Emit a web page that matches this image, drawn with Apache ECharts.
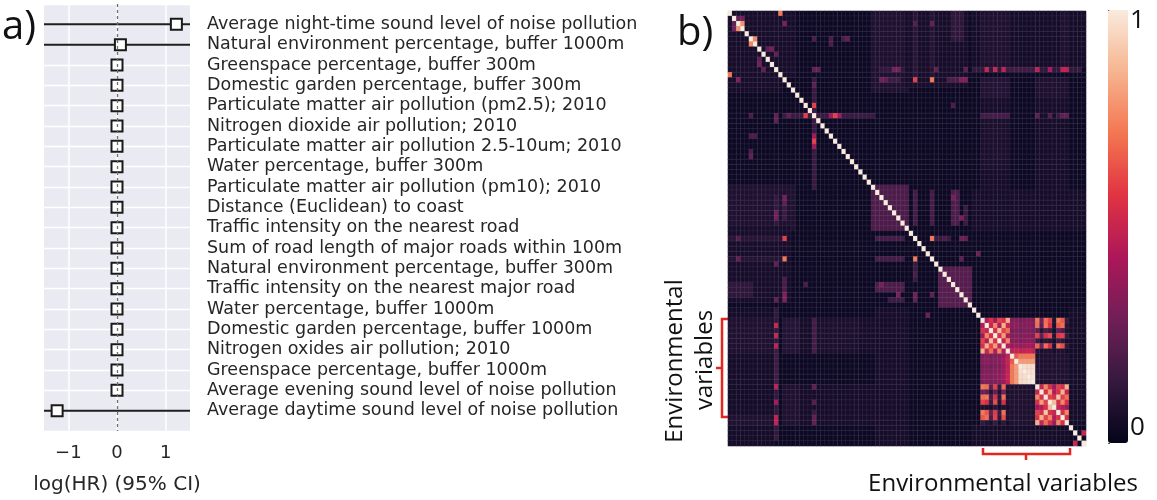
<!DOCTYPE html>
<html>
<head>
<meta charset="utf-8">
<script src="https://cdn.jsdelivr.net/npm/echarts@6/dist/echarts.min.js"></script>
<style>
  html, body { margin: 0; padding: 0; background: #fff; }
  #chart { width: 1157px; height: 500px; }
</style>
</head>
<body>
<div id="chart"></div>
<script>
// ---- a) forest plot ----
const varNames = [
  'Average night-time sound level of noise pollution',
  'Natural environment percentage, buffer 1000m',
  'Greenspace percentage, buffer 300m',
  'Domestic garden percentage, buffer 300m',
  'Particulate matter air pollution (pm2.5); 2010',
  'Nitrogen dioxide air pollution; 2010',
  'Particulate matter air pollution 2.5-10um; 2010',
  'Water percentage, buffer 300m',
  'Particulate matter air pollution (pm10); 2010',
  'Distance (Euclidean) to coast',
  'Traffic intensity on the nearest road',
  'Sum of road length of major roads within 100m',
  'Natural environment percentage, buffer 300m',
  'Traffic intensity on the nearest major road',
  'Water percentage, buffer 1000m',
  'Domestic garden percentage, buffer 1000m',
  'Nitrogen oxides air pollution; 2010',
  'Greenspace percentage, buffer 1000m',
  'Average evening sound level of noise pollution',
  'Average daytime sound level of noise pollution'
];
const logHR  = [1.22, 0.07, 0, 0, 0, 0, 0, 0, 0, 0, 0, 0, 0, 0, 0, 0, 0, 0, 0, -1.23];
const ciLow  = [-3.2, -2.6, -0.02, -0.02, -0.02, -0.02, -0.02, -0.02, -0.02, -0.02, -0.02, -0.02, -0.02, -0.02, -0.02, -0.02, -0.02, -0.02, -0.02, -3.9];
const ciHigh = [5.6, 2.7, 0.02, 0.02, 0.02, 0.02, 0.02, 0.02, 0.02, 0.02, 0.02, 0.02, 0.02, 0.02, 0.02, 0.02, 0.02, 0.02, 0.02, 1.8];
const xTicks = [-1, 0, 1];

// ---- b) correlation heatmap (85 environmental variables, symmetric) ----
const nVars = 85;
const baseCorr = 0.03;
// [rowFrom, rowTo, colFrom, colTo, value] faint areas (mirrored)
const corrPatches = [
  [0, 12, 0, 15, 0.06], [0, 10, 35, 41, 0.06], [0, 10, 44, 44, 0.12], [0, 10, 53, 56, 0.1],
  [5, 8, 49, 49, 0.13], [14, 35, 60, 66, 0.06], [14, 35, 73, 80, 0.06], [14, 33, 20, 20, 0.13],
  [20, 20, 13, 34, 0.15], [34, 42, 0, 15, 0.08], [34, 42, 34, 41, 0.2], [42, 56, 0, 14, 0.06],
  [44, 44, 0, 13, 0.11], [48, 48, 0, 13, 0.1], [53, 55, 0, 5, 0.12], [44, 44, 35, 41, 0.18],
  [48, 48, 35, 41, 0.18], [53, 54, 35, 41, 0.2], [56, 56, 38, 41, 0.16], [58, 58, 40, 41, 0.2],
  [48, 52, 44, 44, 0.15], [50, 57, 50, 57, 0.22], [58, 84, 0, 10, 0.05], [60, 66, 0, 10, 0.08],
  [79, 80, 0, 10, 0.08], [58, 82, 11, 11, 0.13], [60, 66, 13, 16, 0.09], [73, 80, 13, 16, 0.08],
  [60, 66, 20, 20, 0.15], [78, 80, 20, 20, 0.15], [60, 66, 21, 30, 0.07], [73, 80, 21, 30, 0.06],
  [58, 84, 35, 42, 0.06], [11, 11, 36, 41, 0.13], [13, 13, 36, 40, 0.16], [11, 11, 66, 72, 0.17],
  [13, 13, 52, 56, 0.2], [20, 20, 60, 66, 0.18], [67, 72, 73, 80, 0.08], [81, 84, 58, 80, 0.05]
];
// [row, col, value] single pairs (mirrored)
const corrCells = [
  [0, 12, 0.72], [1, 2, 0.25], [1, 3, 0.3], [2, 3, 0.78], [5, 6, 0.75], [2, 13, 0.32],
  [7, 10, 0.3], [7, 9, 0.25], [8, 11, 0.25], [5, 20, 0.2], [5, 24, 0.2], [5, 28, 0.25],
  [11, 20, 0.25], [11, 21, 0.25], [11, 40, 0.3], [13, 36, 0.3], [18, 20, 0.6], [20, 24, 0.4],
  [20, 25, 0.6], [20, 26, 0.4], [14, 20, 0.25], [6, 24, 0.2], [5, 27, 0.2], [13, 37, 0.25],
  [11, 39, 0.3], [2, 44, 0.22], [2, 48, 0.26], [11, 49, 0.25], [11, 56, 0.25], [11, 61, 0.5],
  [11, 63, 0.5], [11, 65, 0.48], [11, 73, 0.48], [11, 76, 0.42], [11, 79, 0.48], [11, 80, 0.48],
  [11, 83, 0.15], [13, 44, 0.6], [13, 48, 0.72], [13, 56, 0.33], [18, 53, 0.2], [20, 73, 0.25],
  [20, 76, 0.22], [20, 79, 0.25], [20, 80, 0.25], [44, 48, 0.72], [44, 51, 0.2], [44, 56, 0.25],
  [47, 59, 0.28], [13, 55, 0.33], [36, 53, 0.3], [40, 55, 0.32], [44, 55, 0.28], [48, 55, 0.25],
  [82, 84, 0.5]
];
// dense blocks in the lower right
const blockA = [ // vars 60-66
  [1.00, 0.45, 0.55, 0.40, 0.60, 0.55, 0.85],
  [0.45, 1.00, 0.50, 0.75, 0.45, 0.85, 0.50],
  [0.55, 0.50, 1.00, 0.55, 0.88, 0.60, 0.70],
  [0.40, 0.75, 0.55, 1.00, 0.55, 0.80, 0.45],
  [0.60, 0.45, 0.88, 0.55, 1.00, 0.50, 0.75],
  [0.55, 0.85, 0.60, 0.80, 0.50, 1.00, 0.45],
  [0.85, 0.50, 0.70, 0.45, 0.75, 0.45, 1.00]
];
const blockB = [ // rows 60-66, cols 67-72
  [0.32, 0.34, 0.30, 0.32, 0.34, 0.32],
  [0.34, 0.36, 0.32, 0.34, 0.35, 0.32],
  [0.30, 0.32, 0.29, 0.32, 0.32, 0.30],
  [0.32, 0.34, 0.32, 0.35, 0.34, 0.32],
  [0.34, 0.35, 0.32, 0.34, 0.36, 0.34],
  [0.38, 0.40, 0.38, 0.40, 0.42, 0.39],
  [0.48, 0.50, 0.48, 0.49, 0.50, 0.48]
];
const blockD = [ // vars 67-72
  [1.00, 0.65, 0.72, 0.72, 0.72, 0.72],
  [0.65, 1.00, 0.80, 0.80, 0.80, 0.80],
  [0.72, 0.80, 1.00, 0.97, 0.96, 0.96],
  [0.72, 0.80, 0.97, 1.00, 0.97, 0.97],
  [0.72, 0.80, 0.96, 0.97, 1.00, 0.98],
  [0.72, 0.80, 0.96, 0.97, 0.98, 1.00]
];
const blockE = [ // vars 73-80
  [1.00, 0.50, 0.75, 0.55, 0.40, 0.60, 0.55, 0.85],
  [0.50, 1.00, 0.55, 0.80, 0.45, 0.55, 0.85, 0.50],
  [0.75, 0.55, 1.00, 0.60, 0.55, 0.90, 0.60, 0.70],
  [0.55, 0.80, 0.60, 1.00, 0.88, 0.55, 0.75, 0.55],
  [0.40, 0.45, 0.55, 0.88, 1.00, 0.50, 0.45, 0.40],
  [0.60, 0.55, 0.90, 0.55, 0.50, 1.00, 0.55, 0.75],
  [0.55, 0.85, 0.60, 0.75, 0.45, 0.55, 1.00, 0.55],
  [0.85, 0.50, 0.70, 0.55, 0.40, 0.75, 0.55, 1.00]
];
const blockF = [ // rows 73-80, cols 60-66
  [0.72, 0.70, 0.25, 0.60, 0.15, 0.68, 0.10],
  [0.30, 0.25, 0.10, 0.25, 0.08, 0.30, 0.07],
  [0.70, 0.72, 0.20, 0.55, 0.12, 0.70, 0.08],
  [0.60, 0.55, 0.15, 0.62, 0.10, 0.55, 0.08],
  [0.08, 0.07, 0.05, 0.10, 0.04, 0.08, 0.05],
  [0.72, 0.65, 0.25, 0.58, 0.15, 0.70, 0.08],
  [0.65, 0.70, 0.20, 0.60, 0.12, 0.62, 0.08],
  [0.14, 0.10, 0.07, 0.14, 0.05, 0.12, 0.05]
];
const rocketColors = ['#03051A', '#35193E', '#701F57', '#AD1759', '#E13342', '#F37651', '#F6B48F', '#FAEBDD'];

// build symmetric matrix
const corr = [];
for (let i = 0; i < nVars; i++) corr.push(new Array(nVars).fill(baseCorr));
function setPair(r, c, v) { corr[r][c] = v; corr[c][r] = v; }
corrPatches.forEach(([r0, r1, c0, c1, v]) => {
  for (let r = r0; r <= r1; r++) for (let c = c0; c <= c1; c++) setPair(r, c, v);
});
function setBlock(r0, c0, rows) {
  rows.forEach((row, i) => row.forEach((v, j) => setPair(r0 + i, c0 + j, v)));
}
setBlock(60, 60, blockA);
setBlock(60, 67, blockB);
setBlock(67, 67, blockD);
setBlock(73, 73, blockE);
setBlock(73, 60, blockF);
corrCells.forEach(([r, c, v]) => setPair(r, c, v));
for (let i = 0; i < nVars; i++) corr[i][i] = 1;

const heatData = [];
for (let r = 0; r < nVars; r++) for (let c = 0; c < nVars; c++) heatData.push([c, r, corr[r][c]]);
const idx = [];
for (let i = 0; i < nVars; i++) idx.push(String(i));

const txt = '#262626';
const red = '#e3261f';

const option = {
  animation: false,
  grid: [
    {left: 44, top: 4, width: 146, height: 432, show: true, backgroundColor: '#EAEAF2', borderWidth: 0},
    {left: 728, top: 11, width: 358, height: 435},
    {left: 1108, top: 10, width: 20, height: 433}
  ],
  xAxis: [
    {
      gridIndex: 0, type: 'value', min: -1.5, max: 1.5,
      axisLine: {show: false},
      axisTick: {show: false, customValues: xTicks},
      axisLabel: {
        customValues: xTicks, margin: 13, fontSize: 18, color: txt, fontFamily: 'DejaVu Sans',
        formatter: v => (v < 0 ? '\u2212' + Math.abs(v) : String(v))
      },
      splitLine: {show: true, lineStyle: {color: '#ffffff', width: 1.5}},
      name: 'log(HR) (95% CI)', nameLocation: 'middle', nameGap: 44,
      nameTextStyle: {fontSize: 20, color: txt, fontFamily: 'DejaVu Sans'}
    },
    {gridIndex: 1, type: 'category', data: idx, show: false},
    {gridIndex: 2, type: 'value', show: false}
  ],
  yAxis: [
    {
      gridIndex: 0, type: 'value', min: -1, max: 20, interval: 1, inverse: true, position: 'right',
      axisLine: {show: false}, axisTick: {show: false},
      axisLabel: {
        margin: 17, fontSize: 17.5, color: txt, fontFamily: 'DejaVu Sans',
        formatter: v => (varNames[v] !== undefined ? varNames[v] : '')
      },
      splitLine: {show: true, lineStyle: {color: '#ffffff', width: 1.3}}
    },
    {gridIndex: 1, type: 'category', data: idx, inverse: true, show: false},
    {
      gridIndex: 2, type: 'value', min: 0, max: 1, interval: 0.2, position: 'right',
      axisLine: {show: false},
      axisTick: {show: true, length: 2, lineStyle: {color: '#555', width: 1}},
      axisLabel: {show: false}, splitLine: {show: false}
    }
  ],
  visualMap: {
    type: 'continuous', min: 0, max: 1, seriesIndex: 2, dimension: 2,
    calculable: false, orient: 'vertical', left: 1108, top: 10, padding: 0,
    itemWidth: 20, itemHeight: 433, text: null, showLabel: false,
    inRange: {color: rocketColors}
  },
  series: [
    {
      type: 'custom', xAxisIndex: 0, yAxisIndex: 0, clip: true, z: 2,
      data: varNames.map((n, i) => [ciLow[i], ciHigh[i], i]),
      encode: {x: [0, 1], y: 2},
      renderItem: (params, api) => {
        const a = api.coord([api.value(0), api.value(2)]);
        const b = api.coord([api.value(1), api.value(2)]);
        return {type: 'line', shape: {x1: a[0], y1: a[1], x2: b[0], y2: b[1]},
                style: {stroke: '#1e1e1e', lineWidth: 2}};
      },
      markLine: {
        silent: true, symbol: 'none', label: {show: false},
        lineStyle: {color: '#6e6e6e', type: [3, 3], width: 1.3},
        data: [{xAxis: 0}]
      }
    },
    {
      type: 'scatter', xAxisIndex: 0, yAxisIndex: 0, z: 3,
      data: logHR.map((v, i) => [v, i]),
      symbol: 'rect', symbolSize: 11,
      itemStyle: {color: '#ffffff', borderColor: '#1a1a1a', borderWidth: 2, opacity: 1}
    },
    {
      type: 'heatmap', xAxisIndex: 1, yAxisIndex: 1, data: heatData, progressive: 0,
      itemStyle: {borderColor: 'rgba(150,150,190,0.22)', borderWidth: 0.5},
      emphasis: {disabled: true}
    }
  ],
  graphic: [
    {type: 'text', left: 2, top: 8, z: 10, style: {text: 'a)', fontSize: 40, fontFamily: 'Open Sans', fill: '#111'}},
    {type: 'text', left: 677, top: 14, z: 10, style: {text: 'b)', fontSize: 40, fontFamily: 'Open Sans', fill: '#111'}},
    {type: 'text', x: 1003, y: 484, style: {text: 'Environmental variables', fontSize: 24, fontFamily: 'Open Sans', fill: '#111', align: 'center', verticalAlign: 'middle'}},
    {type: 'text', x: 675, y: 361, rotation: Math.PI / 2, style: {text: 'Environmental', fontSize: 24, fontFamily: 'Open Sans', fill: '#111', align: 'center', verticalAlign: 'middle'}},
    {type: 'text', x: 705, y: 360, rotation: Math.PI / 2, style: {text: 'variables', fontSize: 24, fontFamily: 'Open Sans', fill: '#111', align: 'center', verticalAlign: 'middle'}},
    {type: 'text', x: 1130, y: 21, style: {text: '1', fontSize: 26, fontFamily: 'Open Sans', fill: '#111', align: 'left', verticalAlign: 'middle'}},
    {type: 'text', x: 1130, y: 428, style: {text: '0', fontSize: 26, fontFamily: 'Open Sans', fill: '#111', align: 'left', verticalAlign: 'middle'}},
    {type: 'polyline', shape: {points: [[729, 319], [722, 319], [722, 417], [729, 417]]}, style: {stroke: red, lineWidth: 2.5, fill: null}},
    {type: 'polyline', shape: {points: [[722, 368], [716, 368]]}, style: {stroke: red, lineWidth: 2.5}},
    {type: 'polyline', shape: {points: [[983, 448], [983, 454], [1070, 454], [1070, 448]]}, style: {stroke: red, lineWidth: 2.5, fill: null}},
    {type: 'polyline', shape: {points: [[1026, 454], [1026, 460]]}, style: {stroke: red, lineWidth: 2.5}}
  ]
};

const myChart = echarts.init(document.getElementById('chart'));
myChart.setOption(option);
</script>
</body>
</html>
